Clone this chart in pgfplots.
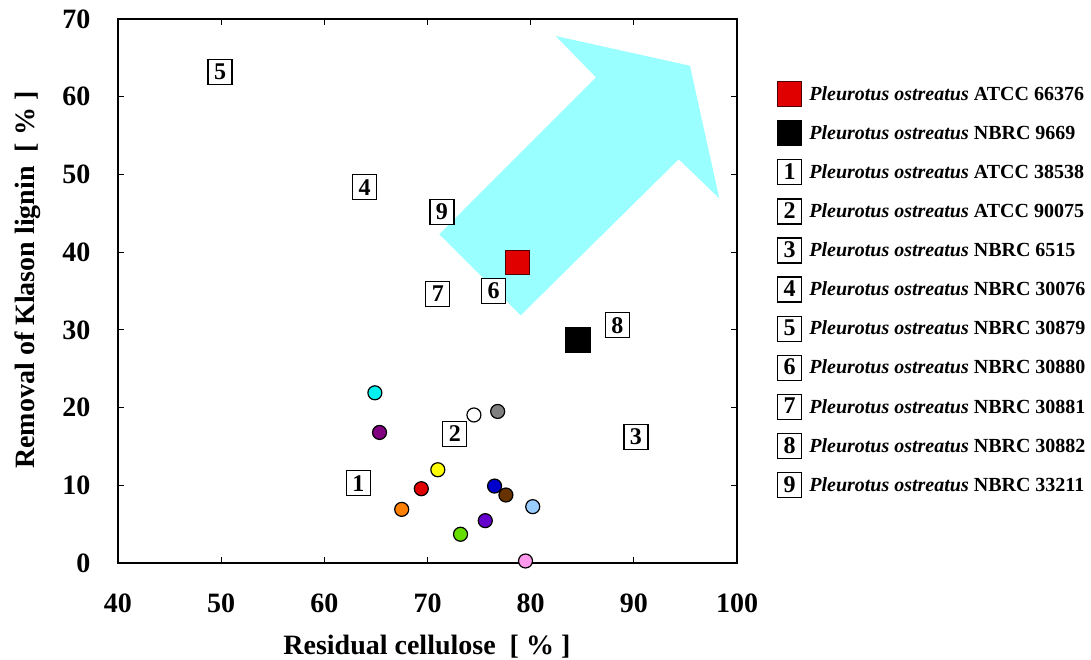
\documentclass[border=0pt]{standalone}
\usepackage{fontspec}
\setmainfont{Liberation Serif}
\usepackage{pgfplots}
\pgfplotsset{compat=1.18}
\definecolor{arrowcyan}{HTML}{99FFFF}
\definecolor{ccyan}{HTML}{00F0F0}
\definecolor{cpurple}{HTML}{800080}
\definecolor{cgray}{HTML}{808080}
\definecolor{cyellow}{HTML}{FFFF00}
\definecolor{cred}{HTML}{E00000}
\definecolor{corange}{HTML}{FF7F00}
\definecolor{cblue}{HTML}{0000CC}
\definecolor{cbrown}{HTML}{663300}
\definecolor{clblue}{HTML}{99CCFF}
\definecolor{cviolet}{HTML}{6600CC}
\definecolor{cgreen}{HTML}{66DD00}
\definecolor{cpink}{HTML}{FF99EE}
\definecolor{sqred}{HTML}{E00000}
\tikzset{numbox/.style={draw=black, fill=white, line width=1.3pt, minimum width=24pt, minimum height=25pt, inner sep=0pt, font=\fontsize{24}{24}\selectfont\bfseries, text=black},
  legsq/.style={draw=#1, fill=#1, line width=1.3pt, minimum width=24pt, minimum height=25pt, inner sep=0pt}}
\pgfplotsset{circ/.style={only marks, mark=*, mark size=7pt, mark options={draw=black, line width=1.2pt, fill=#1}, forget plot}}
\begin{document}
\begin{tikzpicture}
\useasboundingbox (-118pt,-96pt) rectangle (973pt,563pt);
\begin{axis}[
  at={(0pt,0pt)}, anchor=south west,
  width=619pt, height=544pt, scale only axis,
  xmin=40, xmax=100, ymin=0, ymax=70,
  xtick={40,50,...,100}, ytick={0,10,...,70},
  tick align=inside, major tick length=6pt,
  axis line style={line width=1.3pt},
  tick style={line width=1.2pt, black},
  clip=false,
  /pgf/number format/assume math mode=true,
  ticklabel style={font=\fontsize{28}{30}\selectfont\bfseries},
  xticklabel style={yshift=-27pt},
  yticklabel style={xshift=-24pt},
  xlabel={Residual cellulose\ \ [ \% ]},
  ylabel={Removal of Klason lignin\ \ [ \% ]},
  label style={font=\fontsize{28}{30}\selectfont\bfseries},
  xlabel style={at={(axis description cs:0.499,-0.154)}, anchor=center},
  ylabel style={at={(axis description cs:-0.1454,0.52)}, anchor=center},
  legend cell align=left,
  legend style={at={(1.0644,0.886)}, anchor=north west, draw=none, fill=none, inner sep=0pt, row sep=12.8pt, font=\fontsize{20}{24}\selectfont\bfseries,
    /tikz/every odd column/.append style={column sep=5pt}},
]
% arrow
\addplot[fill=arrowcyan, draw=none, forget plot] coordinates {(82.43,67.81) (95.44,63.99) (98.28,46.93) (94.35,51.95) (79.03,31.87) (71.14,42.30) (86.33,62.50)} -- cycle;
% circles
\addplot[circ=ccyan] coordinates {(64.9,21.9)};
\addplot[circ=cpurple] coordinates {(65.35,16.8)};
\addplot[circ=white] coordinates {(74.5,19.05)};
\addplot[circ=cgray] coordinates {(76.8,19.5)};
\addplot[circ=cyellow] coordinates {(71.0,12.0)};
\addplot[circ=cred] coordinates {(69.4,9.56)};
\addplot[circ=corange] coordinates {(67.5,6.9)};
\addplot[circ=cblue] coordinates {(76.5,9.9)};
\addplot[circ=cbrown] coordinates {(77.6,8.75)};
\addplot[circ=clblue] coordinates {(80.2,7.25)};
\addplot[circ=cviolet] coordinates {(75.6,5.45)};
\addplot[circ=cgreen] coordinates {(73.2,3.7)};
\addplot[circ=cpink] coordinates {(79.5,0.26)};
% squares
\addplot[only marks, mark=square*, mark size=12pt, mark options={draw=black!70!red, fill=sqred, line width=1pt}, forget plot] coordinates {(78.7,38.65)};
\addplot[only marks, mark=square*, mark size=12.5pt, mark options={draw=black, fill=black, line width=0.5pt}, forget plot] coordinates {(84.6,28.7)};
% numbered boxes
\addplot[only marks, mark=*, mark size=0.01pt, mark options={draw=none, fill=none}, forget plot, nodes near coords, point meta=explicit symbolic, nodes near coords style={numbox, anchor=center}] table[meta=lab] {
x y lab
63.3 10.25 1
72.65 16.6 2
90.2 16.25 3
63.9 48.35 4
49.9 63.2 5
76.4 35.0 6
71.0 34.6 7
88.4 30.6 8
71.4 45.2 9
};
% legend
\addlegendimage{legend image code/.code={\node[legsq=sqred, draw=black!70!red, line width=1pt] at (0pt,0pt) {};}}
\addlegendentry{\textit{Pleurotus ostreatus} ATCC 66376}
\addlegendimage{legend image code/.code={\node[legsq=black] at (0pt,0pt) {};}}
\addlegendentry{\textit{Pleurotus ostreatus} NBRC 9669}
\addlegendimage{legend image code/.code={\node[numbox] at (0pt,0pt) {1};}}
\addlegendentry{\textit{Pleurotus ostreatus} ATCC 38538}
\addlegendimage{legend image code/.code={\node[numbox] at (0pt,0pt) {2};}}
\addlegendentry{\textit{Pleurotus ostreatus} ATCC 90075}
\addlegendimage{legend image code/.code={\node[numbox] at (0pt,0pt) {3};}}
\addlegendentry{\textit{Pleurotus ostreatus} NBRC 6515}
\addlegendimage{legend image code/.code={\node[numbox] at (0pt,0pt) {4};}}
\addlegendentry{\textit{Pleurotus ostreatus} NBRC 30076}
\addlegendimage{legend image code/.code={\node[numbox] at (0pt,0pt) {5};}}
\addlegendentry{\textit{Pleurotus ostreatus} NBRC 30879}
\addlegendimage{legend image code/.code={\node[numbox] at (0pt,0pt) {6};}}
\addlegendentry{\textit{Pleurotus ostreatus} NBRC 30880}
\addlegendimage{legend image code/.code={\node[numbox] at (0pt,0pt) {7};}}
\addlegendentry{\textit{Pleurotus ostreatus} NBRC 30881}
\addlegendimage{legend image code/.code={\node[numbox] at (0pt,0pt) {8};}}
\addlegendentry{\textit{Pleurotus ostreatus} NBRC 30882}
\addlegendimage{legend image code/.code={\node[numbox] at (0pt,0pt) {9};}}
\addlegendentry{\textit{Pleurotus ostreatus} NBRC 33211}
\end{axis}
\end{tikzpicture}
\end{document}
